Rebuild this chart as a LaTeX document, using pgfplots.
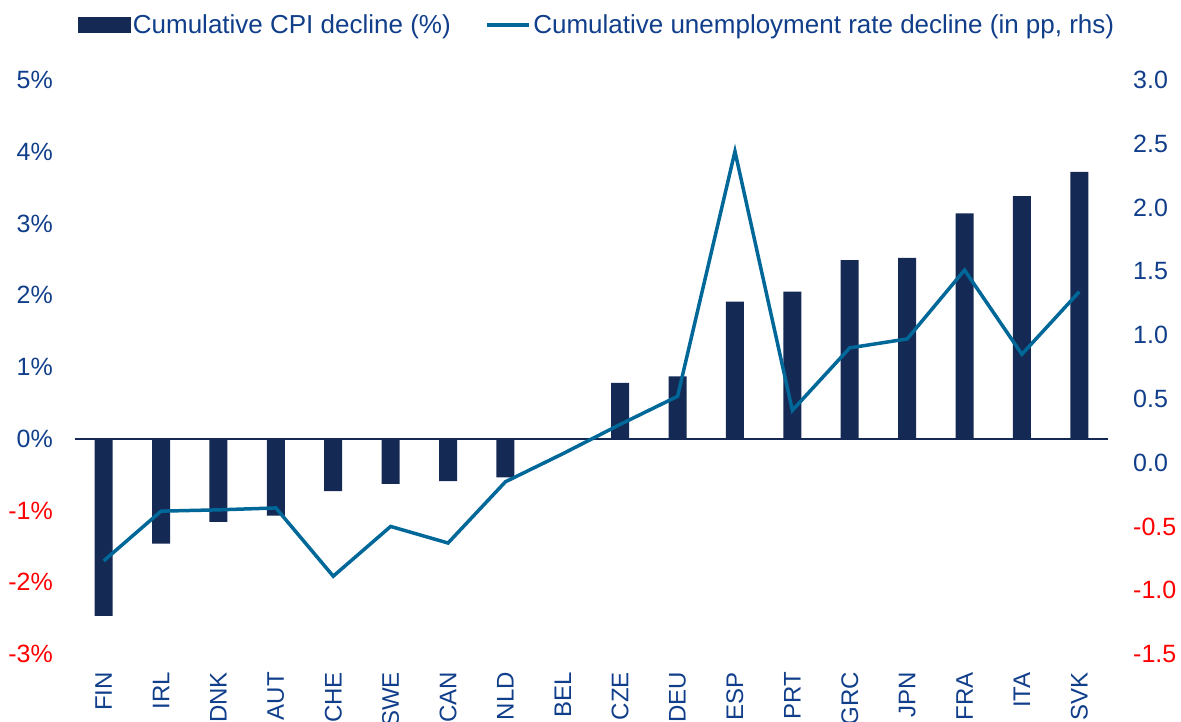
\documentclass[border=0pt]{standalone}
\usepackage{fontspec}
\setmainfont{Liberation Sans}
\usepackage{pgfplots}
\usepackage{pgfplotstable}
\pgfplotsset{compat=1.18}
\definecolor{navy}{RGB}{20,42,84}
\definecolor{lineblue}{RGB}{0,103,153}
\definecolor{lblue}{RGB}{16,62,138}
\definecolor{lred}{RGB}{255,0,0}
\newcommand{\yr}[1]{\textcolor{lred}{#1}}

\pgfplotstableread{
x cpi un
0 -2.47 -0.77
1 -1.46 -0.38
2 -1.16 -0.37
3 -1.07 -0.355
4 -0.73 -0.89
5 -0.63 -0.50
6 -0.59 -0.63
7 -0.54 -0.15
8 0 0.07
9 0.78 0.30
10 0.87 0.52
11 1.91 2.44
12 2.05 0.41
13 2.49 0.90
14 2.52 0.97
15 3.14 1.51
16 3.38 0.85
17 3.72 1.34
}\data

\begin{document}
\begin{tikzpicture}
\begin{axis}[
  at={(0pt,0pt)}, anchor=south west,
  scale only axis, width=1033pt, height=574pt,
  xmin=-0.5, xmax=17.5, ymin=-3, ymax=5,
  axis line style={draw=none}, tick style={draw=none},
  xtick={0,...,17},
  xticklabels={FIN,IRL,DNK,AUT,CHE,SWE,CAN,NLD,BEL,CZE,DEU,ESP,PRT,GRC,JPN,FRA,ITA,SVK},
  xticklabel style={rotate=90, anchor=east, inner sep=0pt, font=\fontsize{24}{26}\selectfont, text=lblue},
  xticklabel shift=18pt,
  ytick={-3,-2,-1,0,1,2,3,4,5},
  yticklabels={\yr{-3\%},\yr{-2\%},\yr{-1\%},0\%,1\%,2\%,3\%,4\%,5\%},
  yticklabel style={inner sep=0pt, font=\fontsize{25}{27}\selectfont, text=lblue},
  yticklabel shift=22pt,
  extra y ticks={0}, extra y tick labels={},
  extra y tick style={grid=major, major grid style={navy, line width=2pt}},
  bar width=18pt,
]
\addplot[ybar, fill=navy, draw=none] table[x=x, y=cpi]{\data};
\end{axis}
\begin{axis}[
  at={(0pt,0pt)}, anchor=south west,
  scale only axis, width=1033pt, height=574pt,
  xmin=-0.5, xmax=17.5, ymin=-1.5, ymax=3,
  axis line style={draw=none}, tick style={draw=none},
  xtick=\empty,
  ytick pos=right, yticklabel pos=right,
  ytick={-1.5,-1,-0.5,0,0.5,1,1.5,2,2.5,3},
  yticklabels={\yr{-1.5},\yr{-1.0},\yr{-0.5},0.0,0.5,1.0,1.5,2.0,2.5,3.0},
  yticklabel style={inner sep=0pt, font=\fontsize{25}{27}\selectfont, text=lblue},
  yticklabel shift=25pt,
  legend columns=2,
  legend style={at={(axis description cs:0,1)}, anchor=west, xshift=3pt, yshift=55pt,
    draw=none, fill=none, inner sep=0pt, outer sep=0pt,
    font=\fontsize{26}{28}\selectfont, text=lblue,
    nodes={inner sep=2.5pt},
    /tikz/every even column/.append style={column sep=32pt}},
  legend cell align=left,
]
\addlegendimage{legend image code/.code={\fill[navy] (0pt,-7.5pt) rectangle (52pt,7.5pt);}}
\addlegendentry{Cumulative CPI decline (\%)}
\addplot[lineblue, line width=3.5pt, line join=miter, mark=none,
  legend image code/.code={\draw[lineblue, line width=3.5pt] (0pt,0pt) -- (42pt,0pt);}]
  table[x=x, y=un]{\data};
\addlegendentry{Cumulative unemployment rate decline (in pp, rhs)}
\end{axis}
\pgfresetboundingbox
\path[use as bounding box] (-75pt,-68pt) rectangle (1106pt,654pt);
\end{tikzpicture}
\end{document}
